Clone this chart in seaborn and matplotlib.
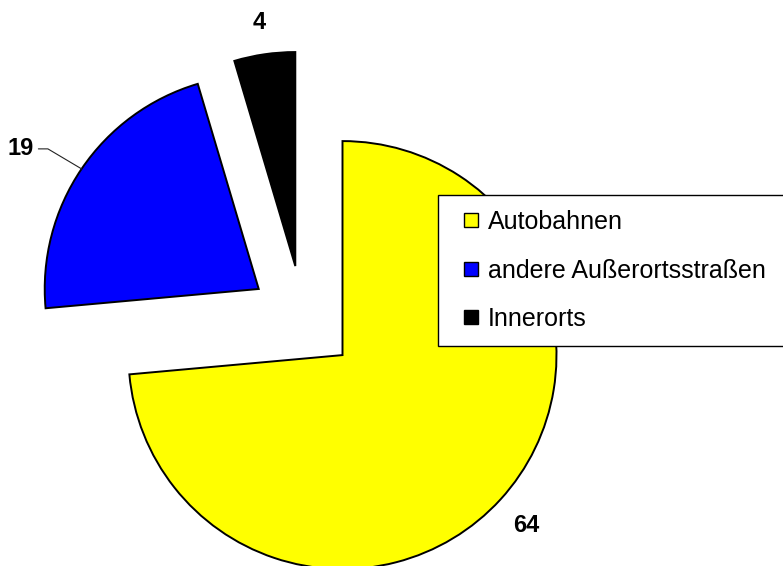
import numpy as np
import matplotlib
matplotlib.use("Agg")
import matplotlib.pyplot as plt
from matplotlib.lines import Line2D
import seaborn as sns

# data
categories = ["Autobahnen", "andere Außerortsstraßen", "Innerorts"]
values = [64, 19, 4]
colors = ["#FFFF00", "#0000FF", "#000000"]

sns.set_style("white")
plt.rcParams["font.family"] = ["Liberation Sans", "DejaVu Sans"]
plt.rcParams["text.color"] = "black"

W, H = 783, 566
fig = plt.figure(figsize=(W / 100, H / 100), dpi=100)
ax = fig.add_axes([0, 0, 1, 1])

# pie center and radius in pixels (from the reference)
cx, cy, rpx = 303, 319, 214

labels_txt = [str(values[0]), "", str(values[2])]
wedges, texts = ax.pie(values, colors=colors, explode=[0.25] * 3, startangle=90,
                       counterclock=False, labels=labels_txt, labeldistance=1.16,
                       wedgeprops=dict(edgecolor="black", linewidth=1.4),
                       textprops=dict(fontsize=17, fontweight="bold", color="black"))
for t in texts:
    t.set_ha("center")
    t.set_va("center_baseline")

# "19" label moved to the side with a leader line
w = wedges[1]
th = np.deg2rad((w.theta1 + w.theta2) / 2)
xy = (w.center[0] + w.r * np.cos(th), w.center[1] + w.r * np.sin(th))
ax.annotate(str(values[1]), xy=xy, xytext=(-61, 20), textcoords="offset pixels",
            ha="center", va="center", fontsize=17, fontweight="bold", color="black",
            arrowprops=dict(arrowstyle="-", color="#222222", lw=0.8,
                            connectionstyle="angle,angleA=0,angleB=-30.7,rad=0",
                            shrinkA=1, shrinkB=0))

ax.set_xlim(-cx / rpx, (W - cx) / rpx)
ax.set_ylim(-(H - cy) / rpx, cy / rpx)
ax.set_aspect("equal")
ax.axis("off")

handles = [Line2D([], [], marker="s", ls="none", markersize=9.4,
                  markerfacecolor=c, markeredgecolor="black", markeredgewidth=1)
           for c in colors]
leg_h = 150 / H
fig.legend(handles, categories, loc="upper left", mode="expand",
           bbox_to_anchor=(438 / W, 1 - 195 / H - leg_h, 400 / W, leg_h),
           bbox_transform=fig.transFigure,
           borderaxespad=0, frameon=True, fancybox=False, edgecolor="black",
           framealpha=1, fontsize=18, borderpad=0.6, handlelength=1.48,
           handletextpad=-0.08, labelspacing=0.98)

fig.savefig("out.png", dpi=100)
